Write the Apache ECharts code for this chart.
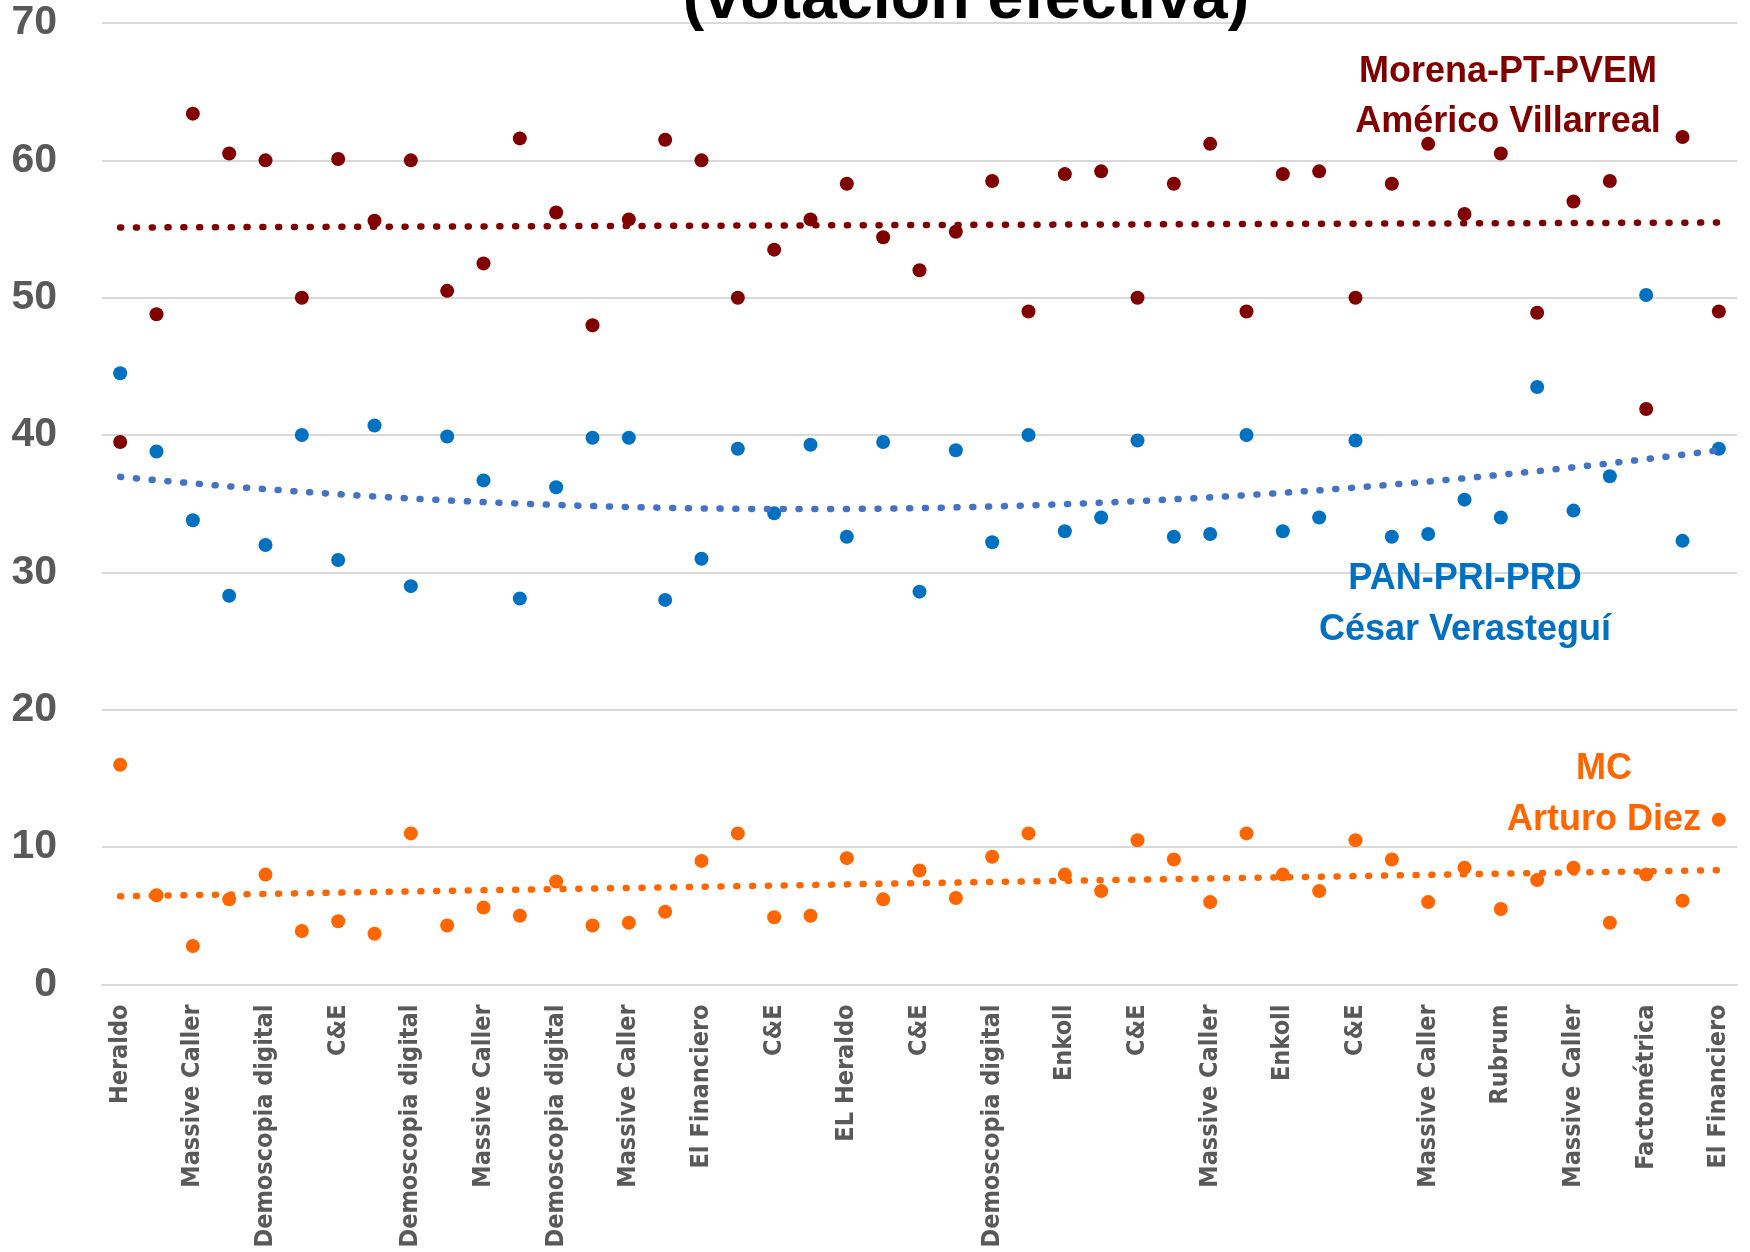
<!DOCTYPE html>
<html>
<head>
<meta charset="utf-8">
<script src="https://cdn.jsdelivr.net/npm/echarts@6/dist/echarts.min.js"></script>
<style>
html,body{margin:0;padding:0;background:#fff;}
#chart{width:1750px;height:1252px;}
</style>
</head>
<body>
<div id="chart"></div>
<script>
// Pollsters (only every other label is legible in the source; hidden ones left blank)
const categories = [
  'Heraldo','', 'Massive Caller','', 'Demoscopia digital','', 'C&E','', 'Demoscopia digital','',
  'Massive Caller','', 'Demoscopia digital','', 'Massive Caller','', 'El Financiero','', 'C&E','',
  'EL Heraldo','', 'C&E','', 'Demoscopia digital','', 'Enkoll','', 'C&E','',
  'Massive Caller','', 'Enkoll','', 'C&E','', 'Massive Caller','', 'Rubrum','',
  'Massive Caller','', 'Factométrica','', 'El Financiero'
];

const morena = [39.5,48.8,63.4,60.5,60.0,50.0,60.1,55.6,60.0,50.5,
  52.5,61.6,56.2,48.0,55.7,61.5,60.0,50.0,53.5,55.7,
  58.3,54.4,52.0,54.8,58.5,49.0,59.0,59.2,50.0,58.3,
  61.2,49.0,59.0,59.2,50.0,58.3,61.2,56.1,60.5,48.9,
  57.0,58.5,41.9,61.7,49.0];

const pan = [44.5,38.8,33.8,28.3,32.0,40.0,30.9,40.7,29.0,39.9,
  36.7,28.1,36.2,39.8,39.8,28.0,31.0,39.0,34.3,39.3,
  32.6,39.5,28.6,38.9,32.2,40.0,33.0,34.0,39.6,32.6,
  32.8,40.0,33.0,34.0,39.6,32.6,32.8,35.3,34.0,43.5,
  34.5,37.0,50.2,32.3,39.0];

const mc = [16.0,6.5,2.8,6.2,8.0,3.9,4.6,3.7,11.0,4.3,
  5.6,5.0,7.5,4.3,4.5,5.3,9.0,11.0,4.9,5.0,
  9.2,6.2,8.3,6.3,9.3,11.0,8.0,6.8,10.5,9.1,
  6.0,11.0,8.0,6.8,10.5,9.1,6.0,8.5,5.5,7.6,
  8.5,4.5,8.0,6.1,12.0];

const yTicks = {min: 0, max: 70, interval: 10};

// Trendlines computed by least squares from the series (as the source spreadsheet did)
function fitPoly(ys, degree) {
  const n = degree + 1;
  const A = Array.from({length: n}, () => new Array(n + 1).fill(0));
  ys.forEach((y, i) => {
    const x = i + 1;
    for (let r = 0; r < n; r++) {
      for (let c = 0; c < n; c++) A[r][c] += Math.pow(x, r + c);
      A[r][n] += y * Math.pow(x, r);
    }
  });
  for (let p = 0; p < n; p++) {
    let m = p;
    for (let r = p + 1; r < n; r++) if (Math.abs(A[r][p]) > Math.abs(A[m][p])) m = r;
    [A[p], A[m]] = [A[m], A[p]];
    for (let r = 0; r < n; r++) {
      if (r === p) continue;
      const f = A[r][p] / A[p][p];
      for (let c = p; c <= n; c++) A[r][c] -= f * A[p][c];
    }
  }
  const coef = A.map((row, i) => row[n] / row[i]);
  return ys.map((_, i) => {
    const x = i + 1;
    return coef.reduce((s, c, k) => s + c * Math.pow(x, k), 0);
  });
}

const RED = '#800000', BLUE = '#0070C0', BLUE_T = '#4472C4', ORANGE = '#FF6600';
const SANS = "'Liberation Sans', Arial, sans-serif";

const chart = echarts.init(document.getElementById('chart'), null, {renderer: 'canvas'});

function dotted(color) {
  return {color: color, width: 6.5, type: [1, 14.8], cap: 'round', opacity: 1};
}

function label(text, x, y, color, size) {
  return {type: 'text', z: 10, x: x, y: y,
    style: {text: text, x: 0, y: 0, align: 'center', verticalAlign: 'middle',
      fill: color, font: 'bold ' + size + 'px ' + SANS}};
}

const option = {
  animation: false,
  backgroundColor: '#fff',
  grid: {left: 102, right: 13, top: 23, bottom: 267.5, containLabel: false},
  xAxis: {
    type: 'category',
    data: categories,
    boundaryGap: true,
    axisLine: {show: true, lineStyle: {color: '#D9D9D9', width: 2}},
    axisTick: {show: false},
    splitLine: {show: false},
    axisLabel: {
      interval: 1,
      rotate: 90,
      margin: 20,
      color: '#595959',
      fontFamily: "'DejaVu Sans Condensed', 'DejaVu Sans'",
      fontWeight: 'bold',
      fontSize: 25
    }
  },
  yAxis: {
    type: 'value',
    min: yTicks.min, max: yTicks.max, interval: yTicks.interval,
    axisLine: {show: false},
    axisTick: {show: false},
    splitLine: {lineStyle: {color: '#D9D9D9', width: 2}},
    axisLabel: {
      margin: 45,
      color: '#595959',
      fontFamily: SANS,
      fontWeight: 'bold',
      fontSize: 41
    }
  },
  series: [
    {type: 'scatter', data: morena, symbolSize: 14, itemStyle: {color: RED, opacity: 1}, z: 3},
    {type: 'scatter', data: pan, symbolSize: 14, itemStyle: {color: BLUE, opacity: 1}, z: 3},
    {type: 'scatter', data: mc, symbolSize: 14, itemStyle: {color: ORANGE, opacity: 1}, z: 3},
    {type: 'line', data: fitPoly(morena, 1), showSymbol: false, symbol: 'none', lineStyle: dotted(RED), z: 4},
    {type: 'line', data: fitPoly(pan, 2), showSymbol: false, symbol: 'none', lineStyle: dotted(BLUE_T), z: 4},
    {type: 'line', data: fitPoly(mc, 1), showSymbol: false, symbol: 'none', lineStyle: dotted(ORANGE), z: 4}
  ],
  graphic: [
    label('(votación efectiva)', 966, 0, '#000', 64.5),
    label('Morena-PT-PVEM', 1508, 72, RED, 36),
    label('Américo Villarreal', 1508, 122.5, RED, 36),
    label('PAN-PRI-PRD', 1465, 579.5, BLUE, 36),
    label('César Verasteguí', 1465, 630.5, BLUE, 36),
    label('MC', 1604, 769, ORANGE, 36),
    label('Arturo Diez', 1604, 820, ORANGE, 36)
  ]
};
chart.setOption(option);
</script>
</body>
</html>
